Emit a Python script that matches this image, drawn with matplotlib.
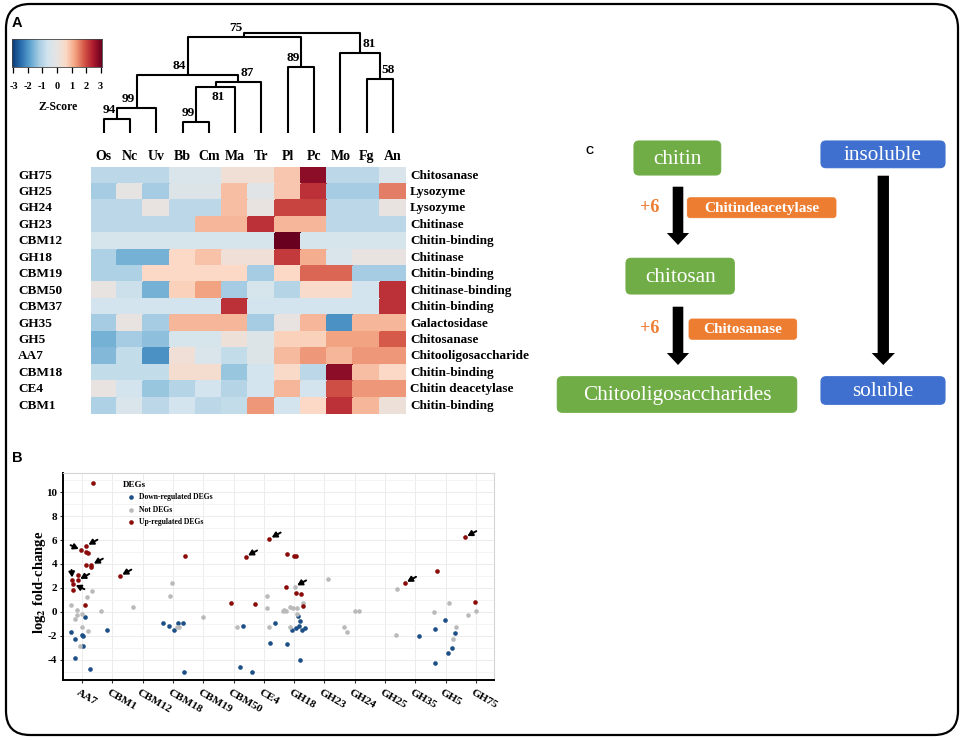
import numpy as np
import matplotlib
matplotlib.use('Agg')
import matplotlib.pyplot as plt
import matplotlib.transforms as mtransforms
from matplotlib.colors import LinearSegmentedColormap
from matplotlib.patches import FancyBboxPatch, FancyArrow

plt.rcParams['font.family'] = ['Liberation Serif', 'DejaVu Serif']
plt.rcParams['mathtext.fontset'] = 'stix'

# ---------------- data: panel A ----------------
species = ['Os', 'Nc', 'Uv', 'Bb', 'Cm', 'Ma', 'Tr', 'Pl', 'Pc', 'Mo', 'Fg', 'An']
families = ['GH75', 'GH25', 'GH24', 'GH23', 'CBM12', 'GH18', 'CBM19', 'CBM50',
            'CBM37', 'GH35', 'GH5', 'AA7', 'CBM18', 'CE4', 'CBM1']
functions = ['Chitosanase', 'Lysozyme', 'Lysozyme', 'Chitinase', 'Chitin-binding',
             'Chitinase', 'Chitin-binding', 'Chitinase-binding', 'Chitin-binding',
             'Galactosidase', 'Chitosanase', 'Chitooligosaccharide', 'Chitin-binding',
             'Chitin deacetylase', 'Chitin-binding']
zscore = [
    [-0.9, -0.9, -0.9, -0.4, -0.4, 0.3, 0.3, 0.8, 2.7, -0.9, -0.9, -0.4],
    [-1.2, 0.0, -1.2, -0.3, -0.3, 0.9, -0.2, 0.8, 2.2, -1.2, -1.2, 1.5],
    [-0.9, -0.9, 0.05, -0.9, -0.9, 0.9, 0.05, 2.0, 2.0, -0.9, -0.9, 0.05],
    [-0.9, -0.9, -0.9, -0.9, 1.0, 1.0, 2.2, 1.0, 1.0, -0.9, -0.9, -0.9],
    [-0.5, -0.5, -0.5, -0.5, -0.5, -0.5, -0.5, 3.0, -0.5, -0.5, -0.5, -0.5],
    [-1.1, -1.6, -1.6, 0.6, 0.85, 0.25, 0.25, 2.1, 1.1, -0.4, 0.05, 0.05],
    [-1.1, -1.1, 0.6, 0.6, 0.6, 0.6, -1.2, 0.6, 1.7, 1.7, -1.2, -1.2],
    [0.05, -0.7, -1.6, 0.7, 1.2, -1.2, -0.5, -1.0, 0.5, 0.5, -0.6, 2.2],
    [-0.6, -0.6, -0.6, -0.6, -0.6, 2.2, -0.6, -0.6, -0.6, -0.6, -0.6, 2.2],
    [-1.2, 0.05, -1.2, 1.0, 1.0, 1.0, -1.2, 0.05, 1.0, -2.0, 1.0, 1.0],
    [-1.6, -1.2, -1.4, -0.5, -0.5, 0.2, -0.3, 0.7, 0.7, 1.2, 1.2, 1.8],
    [-1.5, -0.8, -2.0, 0.25, -0.4, -0.8, -0.3, 0.95, 1.3, 1.0, 1.3, 1.3],
    [-0.8, -0.8, -0.8, 0.4, 0.4, -1.3, -0.6, 0.55, -0.9, 2.7, 0.9, 0.6],
    [0.05, -0.6, -1.3, -1.0, -0.6, -1.0, -0.6, 1.0, -0.6, 1.9, 1.3, 1.3],
    [-1.1, -0.4, -0.9, -0.6, -0.9, -0.8, 1.3, -0.6, 0.6, 2.2, 1.0, 0.2],
]
# dendrogram merges: (left, right, height); node i is called 'n<i>'
tree_merges = [('Os', 'Nc', 14), ('n0', 'Uv', 25), ('Bb', 'Cm', 11), ('n2', 'Ma', 46),
               ('n3', 'Tr', 51), ('n1', 'n4', 58), ('Pl', 'Pc', 66), ('n5', 'n6', 96),
               ('Fg', 'An', 54), ('Mo', 'n8', 80), ('n7', 'n9', 100)]
bootstrap = ['94', '99', '99', '81', '87', '84', '89', '75', '58', '81', '']
boot_side = ['r', 'r', 'r', 'below', 'l', 'r', 'r', 'r', 'l', 'l', 'r']

# ---------------- data: panel B ----------------
x_families = ['AA7', 'CBM1', 'CBM12', 'CBM18', 'CBM19', 'CBM50', 'CE4',
              'GH18', 'GH23', 'GH24', 'GH25', 'GH35', 'GH5', 'GH75']

up_family = ['AA7'] * 14 + ['CBM1', 'CBM18', 'CBM50', 'CBM50', 'CE4', 'CE4'] + \
            ['GH18'] * 7 + ['GH35', 'GH5', 'GH75', 'GH75']
up_jitter = [0.37, 0.13, -0.03, 0.13, 0.21, 0.12, 0.31, 0.31, -0.14, -0.32, -0.14, -0.29, -0.31, 0.10,
             0.25, 0.40, -0.09, 0.40, -0.29, 0.18,
             -0.24, -0.27, 0.00, 0.06, 0.05, 0.22, 0.28,
             -0.35, -0.29, -0.36, -0.03]
up_lfc = [10.8, 5.5, 5.15, 4.97, 4.9, 3.9, 3.92, 3.72, 3.1, 2.64, 2.64, 2.33, 1.86, 0.58,
          3.0, 4.67, 0.72, 4.6, 0.67, 6.1,
          4.83, 2.06, 4.65, 4.65, 1.6, 1.5, 0.45,
          2.4, 3.42, 6.22, 0.8]

not_family = ['AA7'] * 10 + ['CBM1', 'CBM12'] + ['CBM18'] * 4 + ['CBM19', 'CBM50'] + \
             ['CE4'] * 3 + ['GH18'] * 10 + ['GH23'] + ['GH24'] * 4 + ['GH25'] * 2 + \
             ['GH5'] * 4 + ['GH75'] * 2
not_jitter = [-0.36, 0.17, 0.32, -0.17, -0.01, -0.25, -0.17, -0.01, 0.21, -0.07,
              -0.36, -0.31, 0.13, 0.21, -0.10, -0.03, 0.00, 0.10,
              0.10, 0.10, 0.17,
              -0.38, -0.32, -0.26, -0.15, 0.02, -0.03, 0.09, 0.31, 0.09, -0.13,
              0.11, -0.34, -0.24, 0.01, 0.15, 0.40, 0.36,
              -0.37, 0.12, 0.34, 0.23, -0.26, 0.00]
not_lfc = [0.58, 1.2, 1.7, 0.17, -0.17, -0.58, -0.28, -1.3, -1.64, -2.9,
           0.08, 0.44, -1.3, -1.3, 1.28, 2.4, -0.44, -1.3,
           1.28, 0.3, -1.28,
           0.1, 0.13, 0.1, 0.42, 2.1, 0.3, 0.3, 0.72, -0.17, -1.28,
           2.78, -1.3, -1.72, 0.03, 0.1, 1.9, -1.9,
           0.0, 0.75, -1.3, -2.3, -0.3, 0.03]

down_family = ['AA7'] * 8 + ['CBM1'] + ['CBM18'] * 6 + ['CBM50'] * 2 + ['CE4'] * 3 + \
              ['GH18'] * 9 + ['GH35'] + ['GH5'] * 6
down_jitter = [0.11, -0.37, 0.00, 0.04, -0.24, 0.04, -0.23, 0.26,
               -0.18, -0.34, -0.12, 0.04, 0.18, 0.34, 0.38,
               0.30, 0.21, -0.40, 0.37, 0.21,
               -0.24, 0.13, 0.18, -0.06, 0.07, 0.17, 0.27, 0.36, 0.19,
               0.13, -0.36, -0.34, -0.01, 0.32, 0.22, 0.08]
down_lfc = [-0.44, -1.7, -1.9, -2.0, -2.3, -2.9, -3.9, -4.75,
            -1.5, -0.94, -1.22, -1.5, -0.94, -0.94, -5.0,
            -1.22, -4.6, -5.0, -0.94, -2.58,
            -2.7, -0.36, -0.8, -1.5, -1.33, -1.22, -1.5, -1.33, -4.06,
            -2.0, -1.42, -4.3, -0.72, -1.78, -3.05, -3.45]

# highlighted genes (arrows): family, jitter, lfc, direction of the arrow tail
arrow_family = ['AA7', 'AA7', 'AA7', 'AA7', 'AA7', 'AA7', 'CBM1', 'CBM50', 'CE4', 'GH18', 'GH35', 'GH75']
arrow_jitter = [0.13, -0.03, 0.31, -0.32, -0.14, -0.29, 0.25, 0.40, 0.18, 0.02, -0.35, -0.36]
arrow_lfc = [5.5, 5.15, 3.92, 2.64, 2.64, 2.33, 3.0, 4.6, 6.1, 2.1, 2.4, 6.22]
arrow_dir = ['ne', 'nw', 'ne', 'n', 'ne', 'se', 'ne', 'ne', 'ne', 'ne', 'ne', 'ne']

# ---------------- figure ----------------
W, H = 964, 740
fig = plt.figure(figsize=(W / 100, H / 100), dpi=100)


def pxbox(x0, y0, x1, y1):
    return [x0 / W, 1 - y1 / H, (x1 - x0) / W, (y1 - y0) / H]


bg = fig.add_axes([0, 0, 1, 1])
bg.set_xlim(0, W)
bg.set_ylim(H, 0)
bg.axis('off')
bg.add_patch(FancyBboxPatch((6, 4), 952, 731, boxstyle='round,pad=0,rounding_size=24',
                            fill=False, lw=1.6, ec='black'))
bg.text(12, 23, 'A', fontsize=10.5, weight='bold', family='Liberation Sans', va='center')
bg.text(12, 458, 'B', fontsize=10.5, weight='bold', family='Liberation Sans', va='center')
bg.text(586, 151, 'C', fontsize=8, weight='bold', family='Liberation Sans', va='center')

cmap = LinearSegmentedColormap.from_list('zs', ['#0b3a74', '#2a6fb0', '#5ea3cf', '#a6cde3', '#d3e4ee',
                                               '#e6e4e3', '#fbd9c6', '#f3a483', '#d55a4a', '#b01c2e',
                                               '#6a0020'])

# heatmap
ax_h = fig.add_axes(pxbox(90.7, 167.3, 406, 414))
Z = np.array(zscore)
ax_h.pcolormesh(np.arange(len(species) + 1) - 0.5, np.arange(len(families) + 1) - 0.5, Z,
                cmap=cmap, vmin=-3, vmax=3, edgecolors='face', linewidth=0.2)
ax_h.set_xlim(-0.5, len(species) - 0.5)
ax_h.set_ylim(len(families) - 0.5, -0.5)
ax_h.axis('off')
for j, sp in enumerate(species):
    ax_h.text(j, -1.13, sp, ha='center', va='center', fontsize=10, weight='bold')
left_tr = mtransforms.blended_transform_factory(fig.transFigure, ax_h.transData)
for i, (fam, fn) in enumerate(zip(families, functions)):
    ax_h.text(18 / W, i, fam, transform=left_tr, ha='left', va='center', fontsize=9.5, weight='bold')
    ax_h.text(len(species) - 0.35, i, fn, ha='left', va='center', fontsize=9.5, weight='bold')

# dendrogram
ax_d = fig.add_axes(pxbox(90.7, 20, 406, 133))
ax_d.set_xlim(-0.5, len(species) - 0.5)
ax_d.set_ylim(0, 113)
ax_d.axis('off')
pos = {sp: (j, 0) for j, sp in enumerate(species)}
for k, (a, b, h) in enumerate(tree_merges):
    xa, ha_ = pos[a]
    xb, hb = pos[b]
    ax_d.plot([xa, xa, xb, xb], [ha_, h, h, hb], color='black', lw=1.5, solid_capstyle='butt')
    xm = (xa + xb) / 2
    pos['n%d' % k] = (xm, h)
    side = boot_side[k]
    if side == 'r':
        ax_d.annotate(bootstrap[k], (xm, h), xytext=(-1, 2), textcoords='offset points',
                      ha='right', va='bottom', fontsize=9.5, weight='bold')
    elif side == 'l':
        ax_d.annotate(bootstrap[k], (xm, h), xytext=(1.5, 2), textcoords='offset points',
                      ha='left', va='bottom', fontsize=9.5, weight='bold')
    else:
        ax_d.annotate(bootstrap[k], (xm, h), xytext=(2, -3), textcoords='offset points',
                      ha='center', va='top', fontsize=9.5, weight='bold')

# colour key
ax_c = fig.add_axes(pxbox(12, 39, 102, 67))
ax_c.imshow(np.linspace(-3, 3, 256)[None, :], cmap=cmap, aspect='auto', extent=[-3.1, 3.1, 0, 1])
ax_c.set_xticks(range(-3, 4))
ax_c.set_xticklabels([str(v) for v in range(-3, 4)], fontsize=7.5, weight='bold')
ax_c.set_yticks([])
ax_c.tick_params(axis='x', length=4.5, width=0.9, pad=6)
for s in ax_c.spines.values():
    s.set_linewidth(0.6)
    s.set_color('#444444')
bg.text(58, 107, 'Z-Score', ha='center', va='center', fontsize=8.5, weight='bold')

# ---------------- panel B ----------------
ax_b = fig.add_axes(pxbox(63, 473, 494, 680))
fam_idx = {f: i for i, f in enumerate(x_families)}
groups = [(down_family, down_jitter, down_lfc, '#1d4f87', 'Down-regulated DEGs'),
          (not_family, not_jitter, not_lfc, '#bababa', 'Not DEGs'),
          (up_family, up_jitter, up_lfc, '#8b0a0a', 'Up-regulated DEGs')]
for fams, jit, lfc, col, lab in groups:
    xs = [fam_idx[f] + d for f, d in zip(fams, jit)]
    ax_b.scatter(xs, lfc, s=11, color=col, lw=0, label=lab, zorder=3)

tail = {'ne': (8.2, 4.5), 'nw': (-7.6, 3.6), 'n': (-0.6, 7.4), 'se': (8.0, -3.8)}
for f, d, v, dr in zip(arrow_family, arrow_jitter, arrow_lfc, arrow_dir):
    ax_b.annotate('', xy=(fam_idx[f] + d, v), xytext=tail[dr], textcoords='offset points',
                  arrowprops=dict(arrowstyle='-|>,head_length=0.3,head_width=0.17',
                                  color='black', lw=1.4, shrinkA=0, shrinkB=2.0), zorder=4)

ax_b.set_xlim(-0.63, 13.6)
ax_b.set_ylim(-5.7, 11.6)
ax_b.set_xticks(range(len(x_families)))
ax_b.set_xticklabels([])
tick_tr = mtransforms.blended_transform_factory(ax_b.transData, ax_b.transAxes)
for i, f in enumerate(x_families):
    ax_b.annotate(f, xy=(i, 0), xycoords=tick_tr, xytext=(-3.2, -8.6), textcoords='offset points',
                  rotation=-30, ha='left', va='center', rotation_mode='anchor',
                  fontsize=8.2, weight='bold', annotation_clip=False)
ax_b.set_yticks(range(-4, 11, 2))
ax_b.set_yticklabels([str(v) for v in range(-4, 11, 2)], fontsize=8, weight='bold')
ax_b.set_yticks(range(-5, 12, 2), minor=True)
ax_b.tick_params(axis='both', which='major', length=2.5, width=0.8, color='#333333', pad=1.5)
ax_b.tick_params(axis='y', which='minor', length=0)
ax_b.grid(True, which='major', color='#ececec', lw=0.7)
ax_b.grid(True, which='minor', axis='y', color='#f3f3f3', lw=0.6)
ax_b.set_axisbelow(True)
for side in ['left', 'bottom']:
    ax_b.spines[side].set_linewidth(1.4)
    ax_b.spines[side].set_color('black')
for side in ['top', 'right']:
    ax_b.spines[side].set_linewidth(0.8)
    ax_b.spines[side].set_color('#d5d5d5')
ax_b.set_ylabel(r'log$_\mathbf{2}$ fold-change', fontsize=10.5, weight='bold')
ax_b.yaxis.set_label_coords(-0.034, 0.47)
leg = ax_b.legend(loc='upper left', bbox_to_anchor=(0.132, 0.975), title='DEGs',
                  prop={'size': 5.5, 'weight': 'bold'}, frameon=False, handletextpad=0.1,
                  labelspacing=0.55, borderaxespad=0, markerscale=1.0, alignment='left',
                  title_fontproperties={'size': 6.5, 'weight': 'bold'})

# ---------------- panel C ----------------
green, blue, orange = '#70ad47', '#3f6fcf', '#ed7d31'
boxes = [(634, 141, 720.7, 175, green, 'chitin'),
         (626, 258.3, 734.3, 294, green, 'chitosan'),
         (557.3, 376.7, 796.7, 412.3, green, 'Chitooligosaccharides'),
         (821, 141, 945, 167.7, blue, 'insoluble'),
         (821, 376.7, 945, 404.3, blue, 'soluble')]
for x0, y0, x1, y1, col, txt in boxes:
    bg.add_patch(FancyBboxPatch((x0, y0), x1 - x0, y1 - y0, boxstyle='round,pad=0,rounding_size=5',
                                fc=col, ec=col, lw=0.8))
    bg.text((x0 + x1) / 2, (y0 + y1) / 2 + 1, txt, ha='center', va='center', color='white',
            fontsize=15.3)
enzymes = [(687.3, 197.7, 836, 217.7, 'Chitindeacetylase'),
           (689, 319, 796.7, 339.3, 'Chitosanase')]
for x0, y0, x1, y1, txt in enzymes:
    bg.add_patch(FancyBboxPatch((x0, y0), x1 - x0, y1 - y0, boxstyle='round,pad=0,rounding_size=3',
                                fc=orange, ec=orange, lw=0.6))
    bg.text((x0 + x1) / 2, (y0 + y1) / 2 + 0.5, txt, ha='center', va='center', color='white',
            fontsize=11, weight='bold')
for yc in [207.5, 328.5]:
    bg.text(649.5, yc, '+6', ha='center', va='center', color=orange, fontsize=13, weight='bold')
for x, y0, y1, w, hw in [(678, 186.7, 245, 10.6, 22.3), (678, 306.7, 365, 10.6, 22.3),
                         (883.3, 175.7, 365, 11.3, 23.3)]:
    bg.add_patch(FancyArrow(x, y0, 0, y1 - y0, width=w, head_width=hw, head_length=12,
                            length_includes_head=True, fc='black', ec='black', lw=0))

fig.savefig('out.png', dpi=100)
